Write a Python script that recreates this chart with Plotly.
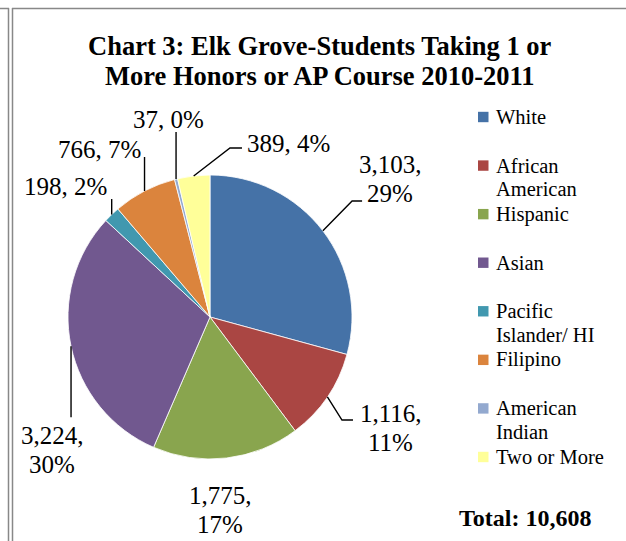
import math
import textwrap
import plotly.graph_objects as go

# ---------------- data ----------------
categories = ["White", "African American", "Hispanic", "Asian",
              "Pacific Islander/ HI", "Filipino", "American Indian", "Two or More"]
students = [3103, 1116, 1775, 3224, 198, 766, 37, 389]
colors = ["#4572A7", "#AA4643", "#89A54E", "#71588F",
          "#4198AF", "#DB843D", "#93A9CF", "#FFFF99"]
title_lines = ["Chart 3: Elk Grove-Students Taking 1 or",
               "More Honors or AP Course 2010-2011"]
total_prefix = "Total: "

# ---------------- layout constants ----------------
W, H = 626, 541
CX, CY, R = 210, 317, 142          # pie centre / radius in pixels
FONT = "Liberation Serif"


def px(x):
    return x / W


def py(y):
    return 1 - y / H


fig = go.Figure(go.Pie(
    labels=categories, values=students, sort=False, direction="clockwise",
    rotation=0, textinfo="none", hoverinfo="label+value+percent",
    marker=dict(colors=colors, line=dict(color="white", width=0.8)),
    domain=dict(x=[px(CX - R), px(CX + R)], y=[py(CY + R), py(CY - R)]),
    showlegend=False,
))

total = sum(students)

# slice mid-angle anchors on the pie edge (computed from data)
anchors = []
cum = 0
for v in students:
    ang = (cum + v / 2) / total * 2 * math.pi
    cum += v
    anchors.append((CX + R * math.sin(ang), CY - R * math.cos(ang)))

# label placement (pixels): centre of first text line, two-line flag, leader offsets
label_layout = [
    dict(pos=(390, 164), two=True, leader=[(29.2, -29.8), (39.2, -29.8)]),
    dict(pos=(391, 413), two=True, leader=[(14.6, 23.1), (25.6, 23.1)]),
    dict(pos=(220, 495), two=True, leader=[]),
    dict(pos=(52, 435), two=True, leader=[(0, 71)]),
    dict(pos=(65, 187), two=False, leader=[(0, -15.5)]),
    dict(pos=(99, 150), two=False, leader=[(0, -34)]),
    dict(pos=(168, 119), two=False, leader=[(0, -47)]),
    dict(pos=(288, 143), two=False, leader=[(36.3, -27.9), (48.3, -27.9)]),
]
LINE_GAP = 29

annotations = []
shapes = []

for v, (ax_, ay_), lay in zip(students, anchors, label_layout):
    pct = round(100 * v / total)
    lines = [f"{v:,},", f"{pct}%"] if lay["two"] else [f"{v:,}, {pct}%"]
    x0, y0 = lay["pos"]
    for i, t in enumerate(lines):
        annotations.append(dict(
            x=px(x0), y=py(y0 + i * LINE_GAP), xref="paper", yref="paper",
            text=t, showarrow=False, xanchor="center", yanchor="middle",
            font=dict(family=FONT, size=25, color="black")))
    if lay["leader"]:
        pts = [(ax_, ay_)] + [(ax_ + dx, ay_ + dy) for dx, dy in lay["leader"]]
        path = "M " + " L ".join(f"{px(x):.5f},{py(y):.5f}" for x, y in pts)
        shapes.append(dict(type="path", path=path, xref="paper", yref="paper",
                           line=dict(color="black", width=1.4)))

# title
for i, t in enumerate(title_lines):
    annotations.append(dict(
        x=px(320), y=py(46 + i * 30), xref="paper", yref="paper",
        text=f"<b>{t}</b>", showarrow=False, xanchor="center", yanchor="middle",
        font=dict(family=FONT, size=26.5, color="black")))

# legend (manual, to mimic the wrapped entries)
LEG_Y0, LEG_STEP, LEG_LINE = 117, 48.57, 23.3
for k, (name, col) in enumerate(zip(categories, colors)):
    yy = LEG_Y0 + k * LEG_STEP
    shapes.append(dict(type="rect", xref="paper", yref="paper",
                       x0=px(478), x1=px(488.5), y0=py(yy - 5.2), y1=py(yy + 5.2),
                       fillcolor=col, line=dict(width=0)))
    for j, t in enumerate(textwrap.wrap(name, 12)):
        annotations.append(dict(
            x=px(494), y=py(yy + j * LEG_LINE), xref="paper", yref="paper",
            text=t, showarrow=False, xanchor="left", yanchor="middle",
            font=dict(family=FONT, size=20.5, color="black")))

# total
annotations.append(dict(
    x=px(525), y=py(518), xref="paper", yref="paper",
    text=f"<b>{total_prefix}{total:,}</b>", showarrow=False,
    xanchor="center", yanchor="middle",
    font=dict(family=FONT, size=24, color="black")))

# page borders
border = dict(color="#888888", width=1.5)
for seg in [((0, 8.5), (9, 8.5)), ((8.5, 8), (8.5, H)),
            ((12.5, 8), (12.5, H)), ((12, 8.5), (W, 8.5))]:
    (xa, ya), (xb, yb) = seg
    shapes.append(dict(type="line", xref="paper", yref="paper",
                       x0=px(xa), y0=py(ya), x1=px(xb), y1=py(yb), line=border))

fig.update_layout(
    width=W, height=H, margin=dict(l=0, r=0, t=0, b=0),
    paper_bgcolor="white", plot_bgcolor="white",
    annotations=annotations, shapes=shapes,
    font=dict(family=FONT, color="black"),
)

fig.write_html("out.html")
